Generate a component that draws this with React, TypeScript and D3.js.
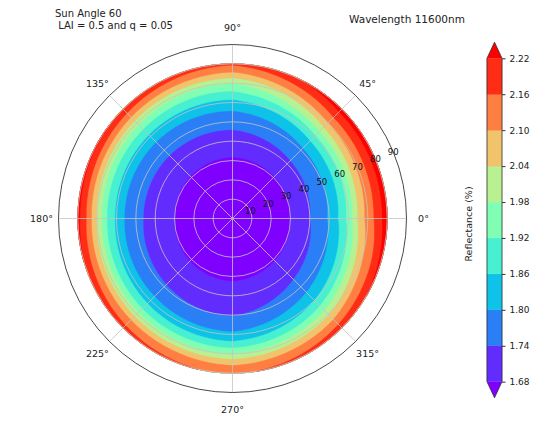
import React, { useEffect, useRef } from 'react';
import * as d3 from 'd3';

// view zenith nodes (deg) and azimuth nodes (deg) of the reflectance grid
const zenithDeg = [0, 10, 20, 30, 40, 50, 55, 60, 65, 70, 75, 80];
const azimuthDeg = [0, 45, 90, 135, 180, 225, 270, 315];

// reflectance (%) along each azimuth, one value per zenith node
const refl0 = [1.638, 1.643, 1.657, 1.680, 1.738, 1.806, 1.862, 1.935, 2.045, 2.125, 2.180, 2.260];
const refl45 = [1.638, 1.643, 1.657, 1.677, 1.726, 1.785, 1.832, 1.905, 2.005, 2.100, 2.175, 2.250];
const refl90 = [1.638, 1.643, 1.657, 1.673, 1.712, 1.759, 1.793, 1.840, 1.905, 1.980, 2.087, 2.170];
const refl135 = [1.638, 1.643, 1.657, 1.677, 1.713, 1.757, 1.790, 1.843, 1.912, 2.005, 2.118, 2.215];
const refl180 = [1.638, 1.643, 1.657, 1.680, 1.714, 1.756, 1.788, 1.847, 1.920, 2.030, 2.147, 2.240];
const refl225 = [1.638, 1.643, 1.656, 1.676, 1.708, 1.746, 1.779, 1.829, 1.899, 2.003, 2.115, 2.185];
const refl270 = [1.638, 1.642, 1.653, 1.672, 1.703, 1.737, 1.770, 1.811, 1.879, 1.976, 2.086, 2.150];
const refl315 = [1.638, 1.643, 1.656, 1.676, 1.718, 1.766, 1.808, 1.860, 1.935, 2.030, 2.120, 2.200];

// contour levels (also the colorbar ticks)
const levels = [1.68, 1.74, 1.80, 1.86, 1.92, 1.98, 2.04, 2.10, 2.16, 2.22];

const thetaTicks = [0, 45, 90, 135, 180, 225, 270, 315];
const radialTicks = [10, 20, 30, 40, 50, 60, 70, 80, 90];

const titleLeft = ['Sun Angle 60', ' LAI = 0.5 and q = 0.05'];
const titleRight = 'Wavelength 11600nm';
const cbarLabel = 'Reflectance (%)';

const W = 554, H = 422;
const cx = 232.5, cy = 218.5, R = 174;
const font = 'DejaVu Sans, sans-serif';

// matplotlib 'rainbow' colormap
function rainbow(t: number) {
  const c = (v: number) => Math.round(Math.max(0, Math.min(1, v)) * 255);
  return d3.rgb(c(Math.abs(2 * t - 0.5)), c(Math.sin(Math.PI * t)), c(Math.cos(Math.PI * t / 2))).toString();
}

export default function App() {
  const ref = useRef<SVGSVGElement>(null);

  useEffect(() => {
    const svg = d3.select(ref.current);
    svg.selectAll('*').remove();

    const nb = levels.length - 1;
    const bandColor = (k: number) => rainbow((k + 0.5) / nb);
    const underColor = rainbow(0), overColor = rainbow(1);

    // grid: columns = azimuth (wrapped), rows = zenith
    const rows = [refl0, refl45, refl90, refl135, refl180, refl225, refl270, refl315];
    const nx = azimuthDeg.length + 1;
    const ny = zenithDeg.length;
    const values: number[] = [];
    for (let j = 0; j < ny; j++) for (let i = 0; i < nx; i++) values.push(rows[i % rows.length][j]);

    const azAt = d3.scaleLinear()
      .domain(d3.range(nx).map(i => i + 0.5))
      .range([...azimuthDeg, 360]).clamp(true);
    const zenAt = d3.scaleLinear()
      .domain(zenithDeg.map((_, j) => j + 0.5))
      .range(zenithDeg).clamp(true);
    const r = d3.scaleLinear().domain([0, 90]).range([0, R]);

    const toXY = (deg: number, rad: number): [number, number] => {
      const a = deg * Math.PI / 180;
      return [cx + rad * Math.cos(a), cy - rad * Math.sin(a)];
    };
    const gridToXY = (p: number[]) => toXY(azAt(p[0]), r(zenAt(p[1])));

    const ringPath = (ring: number[][]) => {
      const pts: [number, number][] = [];
      for (let k = 0; k < ring.length - 1; k++) {
        const a = ring[k], b = ring[k + 1];
        const n = Math.max(1, Math.ceil(Math.hypot(b[0] - a[0], b[1] - a[1]) * 12));
        for (let s = 0; s < n; s++) {
          const t = s / n;
          pts.push(gridToXY([a[0] + (b[0] - a[0]) * t, a[1] + (b[1] - a[1]) * t]));
        }
      }
      return 'M' + pts.map(p => p.join(',')).join('L') + 'Z';
    };

    const contours = d3.contours().size([nx, ny]).thresholds(levels)(values);

    const g = svg.append('g');
    // base: everything below the lowest level
    g.append('circle').attr('cx', cx).attr('cy', cy).attr('r', r(80)).attr('fill', underColor);

    contours.forEach((c, k) => {
      const color = k < nb ? bandColor(k) : overColor;
      const d = c.coordinates.map(poly => poly.map(ringPath).join('')).join('');
      if (!d) return;
      g.append('path').attr('d', d).attr('fill', color)
        .attr('stroke', color).attr('stroke-width', 0.6).attr('fill-rule', 'nonzero');
    });

    // grid
    const grid = svg.append('g').attr('stroke', '#c4c4c4').attr('stroke-width', 0.8).attr('fill', 'none');
    radialTicks.slice(0, -1).forEach(t => grid.append('circle').attr('cx', cx).attr('cy', cy).attr('r', r(t)));
    thetaTicks.forEach(t => {
      const [x, y] = toXY(t, R);
      grid.append('line').attr('x1', cx).attr('y1', cy).attr('x2', x).attr('y2', y);
    });

    // spine
    svg.append('circle').attr('cx', cx).attr('cy', cy).attr('r', R)
      .attr('fill', 'none').attr('stroke', '#333').attr('stroke-width', 0.9);

    // theta labels
    thetaTicks.forEach(t => {
      const [x, y] = toXY(t, R + 17);
      svg.append('text').attr('x', x).attr('y', y).attr('text-anchor', 'middle')
        .attr('dominant-baseline', 'central').attr('font-family', font).attr('font-size', 9.5)
        .attr('fill', '#222').text(`${t}°`);
    });

    // radial labels along 22.5°
    radialTicks.forEach(t => {
      const [x, y] = toXY(22.5, r(t));
      svg.append('text').attr('x', x).attr('y', y).attr('text-anchor', 'middle')
        .attr('dominant-baseline', 'central').attr('font-family', font).attr('font-size', 8.5)
        .attr('fill', '#111').text(t);
    });

    // titles
    titleLeft.forEach((s, i) => {
      svg.append('text').attr('x', 55).attr('y', 17 + i * 12).attr('font-family', font)
        .attr('font-size', 10).attr('fill', '#222').attr('xml:space', 'preserve').style('white-space', 'pre').text(s);
    });
    svg.append('text').attr('x', 349).attr('y', 23).attr('font-family', font)
      .attr('font-size', 10.5).attr('fill', '#222').text(titleRight);

    // colorbar
    const cbX = 487, cbW = 15;
    const cy0 = 381.7, cy1 = 58.3;
    const ext = (cy0 - cy1) * 0.05;
    const cs = d3.scaleLinear().domain([levels[0], levels[nb]]).range([cy0, cy1]);
    const cb = svg.append('g');
    for (let k = 0; k < nb; k++) {
      cb.append('rect').attr('x', cbX).attr('y', cs(levels[k + 1])).attr('width', cbW)
        .attr('height', cs(levels[k]) - cs(levels[k + 1])).attr('fill', bandColor(k))
        .attr('stroke', bandColor(k)).attr('stroke-width', 0.4);
    }
    cb.append('path').attr('d', `M${cbX},${cy1}L${cbX + cbW / 2},${cy1 - ext}L${cbX + cbW},${cy1}Z`).attr('fill', overColor);
    cb.append('path').attr('d', `M${cbX},${cy0}L${cbX + cbW / 2},${cy0 + ext}L${cbX + cbW},${cy0}Z`).attr('fill', underColor);
    cb.append('path')
      .attr('d', `M${cbX},${cy1}L${cbX + cbW / 2},${cy1 - ext}L${cbX + cbW},${cy1}L${cbX + cbW},${cy0}L${cbX + cbW / 2},${cy0 + ext}L${cbX},${cy0}Z`)
      .attr('fill', 'none').attr('stroke', '#333').attr('stroke-width', 0.8);

    const axis = d3.axisRight(cs).tickValues(levels).tickFormat(d3.format('.2f')).tickSize(3.5).tickPadding(4);
    const ax = cb.append('g').attr('transform', `translate(${cbX + cbW},0)`).call(axis);
    ax.select('.domain').remove();
    ax.selectAll('line').attr('stroke', '#333');
    ax.selectAll('text').attr('font-family', font).attr('font-size', 9).attr('fill', '#222');

    svg.append('text').attr('transform', `translate(468,${(cy0 + cy1) / 2 + 4}) rotate(-90)`)
      .attr('text-anchor', 'middle').attr('dominant-baseline', 'central')
      .attr('font-family', font).attr('font-size', 9.5).attr('fill', '#222').text(cbarLabel);
  }, []);

  return (
    <svg ref={ref} width={W} height={H}
      style={{ position: 'absolute', left: 0, top: 0, background: '#fff' }} />
  );
}
